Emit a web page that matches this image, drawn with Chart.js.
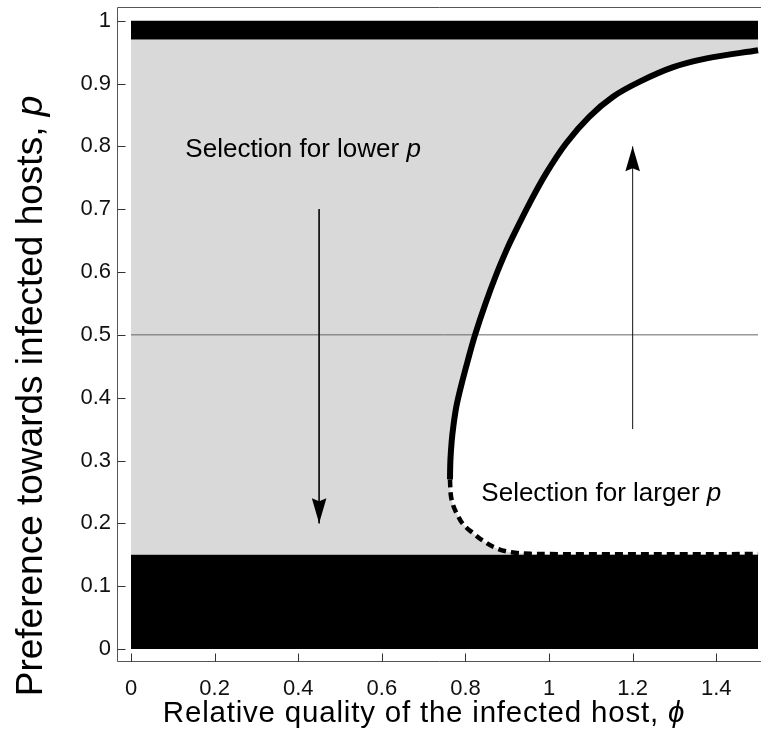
<!DOCTYPE html>
<html><head><meta charset="utf-8">
<script src="https://cdn.jsdelivr.net/npm/chart.js@4.4.0/dist/chart.umd.min.js"></script>
<style>html,body{margin:0;padding:0;background:#fff;}#wrap{width:762px;height:749px;}</style>
</head><body><div id="wrap"><canvas id="c" width="762" height="749"></canvas></div>
<script>
// ---- data ----
const xTickValues = [0, 0.2, 0.4, 0.6, 0.8, 1.0, 1.2, 1.4];
const yTickValues = [0, 0.1, 0.2, 0.3, 0.4, 0.5, 0.6, 0.7, 0.8, 0.9, 1.0];
const phiRange = [0, 1.5];
const lowerBandTop = 0.15;
const upperBandBottom = 0.97;
const upperBandTop = 1.0;
const midlineP = 0.5;
// solid boundary (stable part), from bottom to top
const solidPhi = [0.763, 0.764, 0.767, 0.771, 0.778, 0.789, 0.806, 0.823, 0.848, 0.875, 0.899, 0.913, 0.953, 0.993, 1.041, 1.096, 1.153, 1.217, 1.297, 1.377, 1.5];
const solidP   = [0.270, 0.300, 0.330, 0.354, 0.385, 0.417, 0.460, 0.500, 0.550, 0.598, 0.636, 0.656, 0.709, 0.757, 0.805, 0.847, 0.879, 0.903, 0.926, 0.940, 0.953];
// dashed boundary (unstable part), from the turning point to the right
const dashedPhi = [0.763, 0.765, 0.770, 0.779, 0.795, 0.819, 0.845, 0.875, 0.910, 0.955, 1.0, 1.5];
const dashedP   = [0.270, 0.245, 0.230, 0.216, 0.198, 0.184, 0.171, 0.160, 0.154, 0.1515, 0.151, 0.151];
// arrows
const downArrowPhi = 0.45, downArrowP = [0.70, 0.20];
const upArrowPhi = 1.2, upArrowP = [0.35, 0.80];
const labelLower = ["Selection for lower ", "p"];
const labelLarger = ["Selection for larger ", "p"];
const xTitle = ["Relative quality of the infected host, ", "\u03D5"];
const yTitle = ["Preference towards infected hosts, ", "p"];

// ---- build ----
const pts = (xs, ys) => xs.map((x, i) => ({x, y: ys[i]}));
const hLine = (p) => [{x: phiRange[0], y: p}, {x: phiRange[1], y: p}];
const whiteShape = pts(solidPhi, solidP).reverse().concat(pts(dashedPhi, dashedP).slice(1));

const FONT = "'Liberation Sans', Arial, Helvetica, sans-serif";

const decor = {
  id: 'decor',
  afterDatasetsDraw(chart) {
    const ctx = chart.ctx, xs = chart.scales.x, ys = chart.scales.y, a = chart.chartArea;
    ctx.save();
    // arrow heads
    chart.data.datasets.forEach((ds, i) => {
      if (!ds.arrow) return;
      const meta = chart.getDatasetMeta(i);
      const n = meta.data.length;
      const tip = meta.data[n - 1], prev = meta.data[n - 2];
      const ang = Math.atan2(tip.y - prev.y, tip.x - prev.x);
      const L = 25, W = 7.3, N = 3;
      ctx.save();
      ctx.translate(tip.x, tip.y);
      ctx.rotate(ang);
      ctx.beginPath();
      ctx.moveTo(0, 0);
      ctx.lineTo(-L, -W);
      ctx.lineTo(-L + N, 0);
      ctx.lineTo(-L, W);
      ctx.closePath();
      ctx.fillStyle = '#000';
      ctx.fill();
      ctx.restore();
    });
    // frame
    ctx.strokeStyle = '#555';
    ctx.lineWidth = 1;
    ctx.beginPath();
    const L0 = Math.round(a.left) + 0.5, T0 = Math.round(a.top) + 0.5, B0 = Math.round(a.bottom) - 0.5, R0 = Math.round(a.right);
    ctx.moveTo(R0, T0); ctx.lineTo(L0, T0); ctx.lineTo(L0, B0); ctx.lineTo(R0, B0);
    ctx.stroke();
    // inward ticks
    ctx.strokeStyle = '#333';
    ctx.beginPath();
    xTickValues.forEach(v => {
      const px = Math.round(xs.getPixelForValue(v)) + 0.5;
      ctx.moveTo(px, B0); ctx.lineTo(px, B0 - 8);
    });
    yTickValues.forEach(v => {
      const py = Math.round(ys.getPixelForValue(v)) + 0.5;
      ctx.moveTo(L0, py); ctx.lineTo(L0 + 8, py);
    });
    ctx.stroke();
    // mixed-style text helper
    const drawMixed = (parts, x, y, size, align, spacing) => {
      ctx.letterSpacing = (spacing || 0) + 'px';
      const f0 = size + 'px ' + FONT, f1 = 'italic ' + size + 'px ' + FONT;
      ctx.font = f0; const w0 = ctx.measureText(parts[0]).width;
      ctx.font = f1; const w1 = ctx.measureText(parts[1]).width;
      let x0 = align === 'center' ? x - (w0 + w1) / 2 : x;
      ctx.textAlign = 'left';
      ctx.textBaseline = 'alphabetic';
      ctx.fillStyle = '#000';
      ctx.font = f0; ctx.fillText(parts[0], x0, y);
      ctx.font = f1; ctx.fillText(parts[1], x0 + w0, y);
      ctx.letterSpacing = '0px';
    };
    drawMixed(labelLower, xs.getPixelForValue(0.13), ys.getPixelForValue(0.783), 26, 'left');
    drawMixed(labelLarger, xs.getPixelForValue(0.838), ys.getPixelForValue(0.235), 26, 'left');
    drawMixed(xTitle, 424, 722, 29.5, 'center', 0.8);
    ctx.save();
    ctx.translate(42, 396);
    ctx.rotate(-Math.PI / 2);
    drawMixed(yTitle, 0, 0, 37, 'center');
    ctx.restore();
    ctx.restore();
  }
};

const tickFmt = v => String(Math.round(v * 10) / 10);

new Chart(document.getElementById('c'), {
  type: 'line',
  data: {
    datasets: [
      {data: hLine(upperBandTop), borderWidth: 0, borderColor: 'rgba(0,0,0,0)', backgroundColor: '#000', fill: {value: upperBandBottom}, order: 8},
      {data: hLine(lowerBandTop), borderWidth: 0, borderColor: 'rgba(0,0,0,0)', backgroundColor: '#000', fill: {value: 0}, order: 8},
      {data: whiteShape, borderWidth: 0, borderColor: 'rgba(0,0,0,0)', backgroundColor: '#fff', fill: 'shape', tension: 0.35, order: 9},
      {data: hLine(upperBandBottom), borderWidth: 0, borderColor: 'rgba(0,0,0,0)', backgroundColor: '#d9d9d9', fill: {value: lowerBandTop}, order: 10},
      {data: hLine(midlineP), borderWidth: 1, borderColor: '#666', fill: false, order: 7},
      {data: pts(dashedPhi, dashedP), borderWidth: 4.5, borderColor: '#000', borderDash: [8, 5], fill: false, tension: 0.35, order: 5},
      {data: pts(solidPhi, solidP), borderWidth: 6, borderColor: '#000', fill: false, tension: 0.35, borderCapStyle: 'butt', order: 4},
      {data: [{x: downArrowPhi, y: downArrowP[0]}, {x: downArrowPhi, y: downArrowP[1]}], borderWidth: 1, borderColor: '#111', fill: false, arrow: true, order: 3},
      {data: [{x: upArrowPhi, y: upArrowP[0]}, {x: upArrowPhi, y: upArrowP[1]}], borderWidth: 1, borderColor: '#111', fill: false, arrow: true, order: 3}
    ]
  },
  options: {
    responsive: false,
    animation: false,
    devicePixelRatio: 1,
    layout: {padding: {top: 7, right: 1, left: 0, bottom: 0}},
    elements: {point: {radius: 0, hoverRadius: 0}},
    plugins: {legend: {display: false}, tooltip: {enabled: false}},
    scales: {
      x: {
        type: 'linear', min: -0.0335, max: 1.507,
        afterBuildTicks: s => { s.ticks = xTickValues.map(v => ({value: v})); },
        afterFit: s => { s.height = 87; s.paddingLeft = 0; s.paddingRight = 0; },
        grid: {display: false, drawTicks: false},
        border: {display: false},
        ticks: {callback: tickFmt, font: {family: FONT, size: 22}, color: '#111', padding: 14, maxRotation: 0, autoSkip: false}
      },
      y: {
        type: 'linear', min: -0.0207, max: 1.0218,
        afterBuildTicks: s => { s.ticks = yTickValues.map(v => ({value: v})); },
        afterFit: s => { s.width = 117; s.paddingTop = 0; s.paddingBottom = 0; },
        grid: {display: false, drawTicks: false},
        border: {display: false},
        ticks: {callback: tickFmt, font: {family: FONT, size: 22}, color: '#111', padding: 6, autoSkip: false}
      }
    }
  },
  plugins: [decor]
});
</script></body></html>
